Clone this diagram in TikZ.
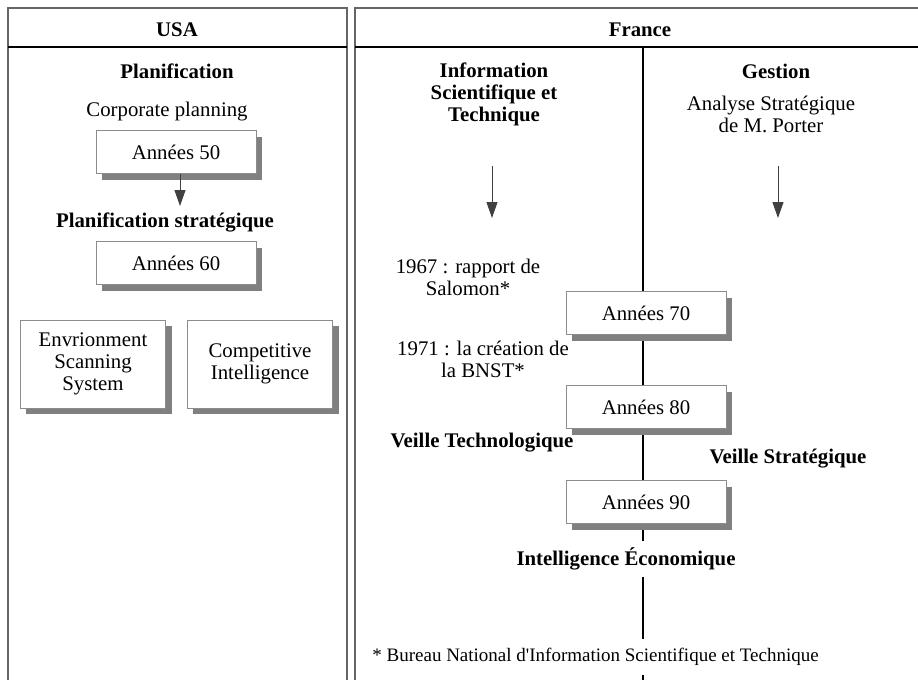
\documentclass[tikz,border=0pt]{standalone}
\usepackage{fontspec}
\setmainfont{Liberation Serif}
\usetikzlibrary{shadows,arrows.meta}

\begin{document}
\begin{tikzpicture}[x=0.5pt,y=-0.5pt,
  font=\fontsize{10.4}{11}\selectfont,
  panel/.style={draw=black!60,line width=0.8pt},
  yearbox/.style={draw=black!45,fill=white,minimum width=80pt,minimum height=21.5pt,
    drop shadow={shadow xshift=3pt,shadow yshift=-3pt,fill=black!50,opacity=1}},
  bigbox/.style={yearbox,minimum width=72pt,minimum height=44pt,align=center,
    text width=66pt,font=\fontsize{10.4}{10.9}\selectfont},
  head/.style={font=\fontsize{10.4}{11}\selectfont\bfseries},
  arr/.style={draw=black!75,line width=0.5pt,-{Triangle[length=8pt,width=5.5pt]}}]
  \useasboundingbox (0,0) rectangle (918,680);
  \draw[panel] (8,680) -- (8,8) -- (347,8) -- (347,680);
  \draw[panel] (355,680) -- (355,8) -- (918,8);
  \draw[line width=0.7pt] (8,47) -- (347,47) (355,47) -- (918,47);

  \node (usa) at (177,30) [head] {USA};
  \node (fr) at (640,30) [head] {France};

  \node (plan) at (177,71) [head] {Planification};
  \node (corp) at (167,112) {Corporate planning};
  \node (b50) at (176,152) [yearbox] {Années 50};
  \coordinate (a50) at (180,206);
  \node (pstrat) at (165,222) [head] {Planification stratégique};
  \node (b60) at (176,263) [yearbox] {Années 60};
  \node (env) at (93,364) [bigbox] {Envrionment\\Scanning\\System};
  \node (comp) at (260,364) [bigbox] {Competitive\\Intelligence};
  \draw[arr] (b50.south -| a50) -- (a50);

  \node (ist) at (494,94) [head,align=center] {Information\\Scientifique et\\Technique};
  \node (ges) at (776,71) [head] {Gestion};
  \node (porter) at (771,114) [align=center] {Analyse Stratégique\\de M. Porter};
  \coordinate (ista) at (492,166);
  \coordinate (istb) at (492,218);
  \coordinate (gesa) at (778,166);
  \coordinate (gesb) at (778,218);
  \draw[arr] (ista) -- (istb);
  \draw[arr] (gesa) -- (gesb);

  \node (sal) at (468,277) [align=center] {1967 : rapport de\\Salomon*};
  \node (bnst) at (483,359) [align=center] {1971 : la création de\\la BNST*};
  \node (vt) at (482,443) [head] {Veille Technologique};
  \node (vs) at (788,459) [head] {Veille Stratégique};
  \node (ie) at (626,559) [head,minimum height=18pt] {Intelligence Économique};
  \node (fn) at (372,657) [anchor=west,inner sep=0pt,minimum height=17.5pt,
    font=\fontsize{9.5}{11}\selectfont]
    {* Bureau National d\textquotesingle Information Scientifique et Technique};

  \coordinate (dtop) at (643,47);
  \coordinate (dbot) at (643,680);
  \draw[line width=1pt] (dtop) -- (dtop |- ie.north) (dtop |- ie.south) -- (dtop |- fn.north)
    (dtop |- fn.south) -- (dbot);

  \node (b70) at (646,313) [yearbox] {Années 70};
  \node (b80) at (646,407) [yearbox] {Années 80};
  \node (b90) at (646,502) [yearbox] {Années 90};
\end{tikzpicture}
\end{document}
